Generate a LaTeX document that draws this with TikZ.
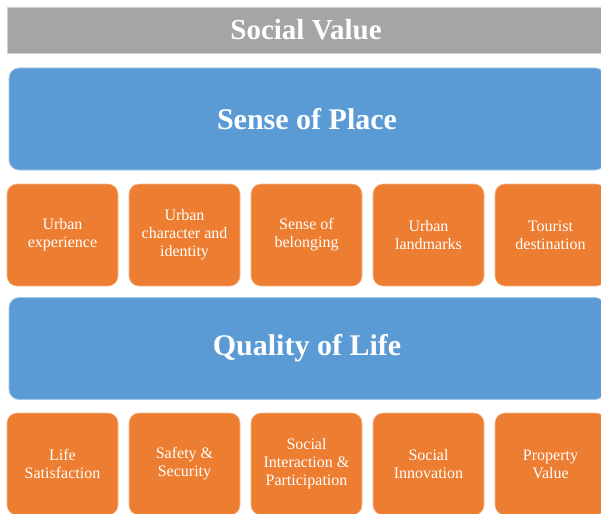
\documentclass[tikz,border=0pt]{standalone}
\usepackage{fontspec}
\setmainfont{Liberation Serif}
\usetikzlibrary{positioning}

\definecolor{barGrey}{HTML}{A5A5A5}
\definecolor{bandBlue}{HTML}{5B9BD5}
\definecolor{itemOrange}{HTML}{ED7D31}

\begin{document}
\begin{tikzpicture}[x=1pt, y=-1pt,
  header/.style={rectangle, fill=barGrey, draw=black!18, line width=0.8pt,
    minimum width=598pt, minimum height=46pt, inner sep=0pt, text=white,
    font=\fontsize{29}{32}\selectfont\bfseries},
  band/.style={rectangle, rounded corners=10pt, fill=bandBlue,
    draw=bandBlue!55, line width=0.8pt, minimum width=596pt,
    minimum height=102pt, text=white,
    font=\fontsize{30}{34}\selectfont\bfseries},
  item/.style={rectangle, rounded corners=10pt, fill=itemOrange,
    draw=itemOrange!55, line width=0.6pt, minimum width=111pt,
    minimum height=102pt, inner sep=2pt, align=center, text=white,
    font=\fontsize{16}{18}\selectfont}]
  \clip (0,0) rectangle (601,513);

  % top bar
  \node[header] (sv) at (306,30) {Social Value};

  % first band and its items
  \node[band] (place) at (307,119) {Sense of Place};
  \node[item] (ux)   at (62.5,235)  {Urban\\experience};
  \node[item] (uid)  at (184.5,235) {Urban\\character and\\identity};
  \node[item] (bel)  at (306.5,235) {Sense of\\belonging};
  \node[item] (land) at (428.5,235) {Urban\\landmarks};
  \node[item] (tour) at (550.5,235) {Tourist\\destination};

  % second band and its items
  \node[band] (qol) at (307,348.5) {Quality of Life};
  \node[item] (sat)  at (62.5,464)  {Life\\Satisfaction};
  \node[item] (safe) at (184.5,464) {Safety \&\\Security};
  \node[item] (part) at (306.5,464) {Social\\Interaction \&\\Participation};
  \node[item] (inno) at (428.5,464) {Social\\Innovation};
  \node[item] (prop) at (550.5,464) {Property\\Value};
\end{tikzpicture}
\end{document}
